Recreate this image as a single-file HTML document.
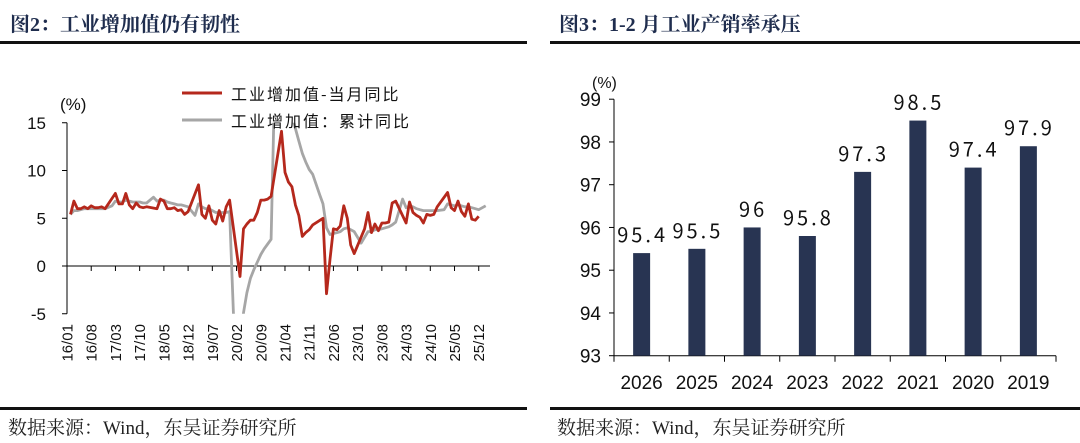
<!DOCTYPE html>
<html><head><meta charset="utf-8"><style>
body{margin:0;width:1080px;height:443px;background:#fff;overflow:hidden;font-family:"Liberation Sans","Noto Sans CJK SC",sans-serif}
.t{position:absolute;font-family:"Liberation Serif","Noto Serif CJK SC",serif;font-weight:bold;font-size:20px;color:#1f2d4e}
.f{position:absolute;font-family:"Liberation Serif","Noto Serif CJK SC",serif;font-size:19px;color:#222}
.hr{position:absolute;height:3px;background:#111}
</style></head><body>
<div class="t" style="left:10px;top:8px">图2：工业增加值仍有韧性</div>
<div class="t" style="left:559px;top:8px">图3：1-2 月工业产销率承压</div>
<div class="hr" style="left:0;top:41px;width:527px"></div>
<div class="hr" style="left:550px;top:41px;width:530px"></div>
<div class="hr" style="left:0;top:407px;width:527px"></div>
<div class="hr" style="left:550px;top:407px;width:530px"></div>
<div class="f" style="left:8px;top:413px">数据来源：Wind，东吴证券研究所</div>
<div class="f" style="left:557px;top:413px">数据来源：Wind，东吴证券研究所</div>
<svg id="s" width="1080" height="443" style="position:absolute;left:0;top:0"></svg>
<script>
const years=["16","17","18","19","20","21","22","23","24","25","26"];
const monthly=[
null,5.4,6.8,6.0,6.0,6.2,6.0,6.3,6.1,6.1,6.2,6.0,
null,null,7.6,6.5,6.5,7.6,6.4,6.0,6.6,6.2,6.1,6.2,
null,null,6.0,7.0,6.8,6.0,6.0,6.1,5.8,5.9,5.4,5.7,
null,null,8.5,5.4,5.0,6.3,4.8,4.4,5.8,4.7,6.2,6.9,
null,null,-1.1,3.9,4.4,4.8,4.8,5.6,6.9,6.9,7.0,7.3,
null,null,14.1,9.8,8.8,8.3,6.4,5.3,3.1,3.5,3.8,4.3,
null,null,5.0,-2.9,0.7,3.9,3.8,4.2,6.3,5.0,2.2,1.3,
null,null,3.9,5.6,3.5,4.4,3.7,4.5,4.5,4.6,6.6,6.8,
null,null,4.5,6.7,5.6,5.3,5.1,4.5,5.4,5.3,5.4,6.2,
null,null,7.7,6.1,5.8,6.8,5.7,5.2,6.5,4.9,4.8,5.2,
null,null];
const cumulative=[
null,5.4,5.8,5.8,5.9,6.0,6.0,6.0,6.0,6.0,6.0,6.0,
null,6.3,6.8,6.7,6.7,6.9,6.8,6.7,6.7,6.7,6.6,6.6,
null,7.2,6.8,6.9,6.9,6.7,6.6,6.5,6.4,6.4,6.3,6.2,
null,5.3,6.5,6.2,6.0,6.0,5.8,5.6,5.6,5.6,5.6,5.7,
null,-13.5,-8.4,-4.9,-2.8,-1.3,-0.4,0.4,1.2,1.8,2.3,2.8,
null,35.1,24.5,20.3,17.8,15.9,14.4,13.1,11.8,10.9,10.1,9.6,
null,7.5,6.5,4.0,3.3,3.4,3.5,3.6,3.9,4.0,3.8,3.6,
null,2.4,3.0,3.6,3.6,3.8,3.8,3.9,4.0,4.1,4.3,4.6,
null,7.0,6.1,6.3,6.2,6.0,5.9,5.8,5.8,5.8,5.8,5.8,
null,5.9,6.5,6.4,6.3,6.4,6.3,6.2,6.2,6.1,6.0,5.9,
null,6.3];
const yTicksL=[15,10,5,0,-5];
const xLabelsL=["16/01","16/08","17/03","17/10","18/05","18/12","19/07","20/02","20/09","21/04","21/11","22/06","23/01","23/08","24/03","24/10","25/05","25/12"];
const barCats=["2026","2025","2024","2023","2022","2021","2020","2019"];
const barVals=[95.4,95.5,96,95.8,97.3,98.5,97.4,97.9];
const yTicksR=[93,94,95,96,97,98,99];

const S=document.getElementById('s'),NS='http://www.w3.org/2000/svg';
function mk(t,a,txt){const e=document.createElementNS(NS,t);for(const k in a)e.setAttribute(k,a[k]);if(txt!=null)e.textContent=txt;S.appendChild(e);return e;}
const lx=i=>67+i*3.46, ly=v=>266-v*9.55;
const defs=mk('defs',{});
const cp=document.createElementNS(NS,'clipPath');cp.setAttribute('id','cl');defs.appendChild(cp);
const cr=document.createElementNS(NS,'rect');cr.setAttribute('x',60);cr.setAttribute('y',ly(15));cr.setAttribute('width',440);cr.setAttribute('height',ly(-5)-ly(15));cp.appendChild(cr);
let e=mk('line',{x1:67,y1:ly(15),x2:67,y2:ly(-5),stroke:'#000','stroke-width':1});

yTicksL.forEach(v=>{
 let t=mk('line',{x1:62,x2:67,y1:ly(v),y2:ly(v),stroke:'#000'});
 
 let l=mk('text',{x:46,y:ly(v)+6,'text-anchor':'end','font-size':17,fill:'#111'},String(v));
 
});
e=mk('line',{x1:67,y1:ly(0),x2:490,y2:ly(0),stroke:'#000'});

xLabelsL.forEach((s,k)=>{
 const x=lx(k*7);
 let t=mk('line',{x1:x,x2:x,y1:ly(0),y2:ly(0)+5,stroke:'#000'});
 
 let l=mk('text',{x:0,y:0,'text-anchor':'end','font-size':15,fill:'#111',transform:`translate(${x+5.5},324) rotate(-90)`},s);
 
});
function pathOf(arr){let d='';arr.forEach((v,i)=>{if(v==null)return;d+=(d?'L':'M')+lx(i).toFixed(1)+','+ly(v).toFixed(1);});return d;}
e=mk('path',{d:pathOf(cumulative),fill:'none',stroke:'#a6a6a6','stroke-width':2.8,'clip-path':'url(#cl)','stroke-linejoin':'round'});

e=mk('path',{d:pathOf(monthly),fill:'none',stroke:'#b5281c','stroke-width':2.8,'clip-path':'url(#cl)','stroke-linejoin':'round'});

e=mk('text',{x:60,y:110,'font-size':17,fill:'#111'},'(%)');

e=mk('line',{x1:182,x2:222,y1:93,y2:93,stroke:'#b5281c','stroke-width':3});

e=mk('text',{x:231,y:100,'font-size':16,'letter-spacing':2,fill:'#111','font-family':'"Noto Sans CJK SC",sans-serif'},'工业增加值-当月同比');

e=mk('line',{x1:182,x2:222,y1:120,y2:120,stroke:'#a6a6a6','stroke-width':3});

e=mk('text',{x:231,y:127,'font-size':16,'letter-spacing':2,fill:'#111','font-family':'"Noto Sans CJK SC",sans-serif'},'工业增加值：累计同比');

const rx0=614,rw=(1056-614)/barCats.length, ry=v=>355.7-(v-93)*42.75;
e=mk('line',{x1:rx0,x2:rx0,y1:ry(99),y2:ry(93),stroke:'#000'});

e=mk('line',{x1:rx0,x2:1056,y1:ry(93),y2:ry(93),stroke:'#000'});

yTicksR.forEach(v=>{
 let t=mk('line',{x1:609,x2:rx0,y1:ry(v),y2:ry(v),stroke:'#000'});
 
 let l=mk('text',{x:601,y:ry(v)+7,'text-anchor':'end','font-size':19,fill:'#111'},String(v));
 
});
for(let k=0;k<=barCats.length;k++){
 let t=mk('line',{x1:rx0+k*rw,x2:rx0+k*rw,y1:ry(93),y2:ry(93)+6,stroke:'#000'});
 
}
barCats.forEach((c,k)=>{
 const cx=rx0+(k+0.5)*rw,v=barVals[k];
 let b=mk('rect',{x:cx-8.5,y:ry(v),width:17,height:ry(93)-ry(v),fill:'#283452'});
 
 let l=mk('text',{x:cx,y:389,'text-anchor':'middle','font-size':19,fill:'#111'},c);
 
 let vl=mk('text',{x:cx+1,y:ry(v)-11,'text-anchor':'middle','font-size':20,'letter-spacing':3,fill:'#111','font-family':'"Noto Sans CJK SC",sans-serif'},String(v));
 
});
e=mk('text',{x:592,y:88,'font-size':16,fill:'#111'},'(%)');

</script>
</body></html>
